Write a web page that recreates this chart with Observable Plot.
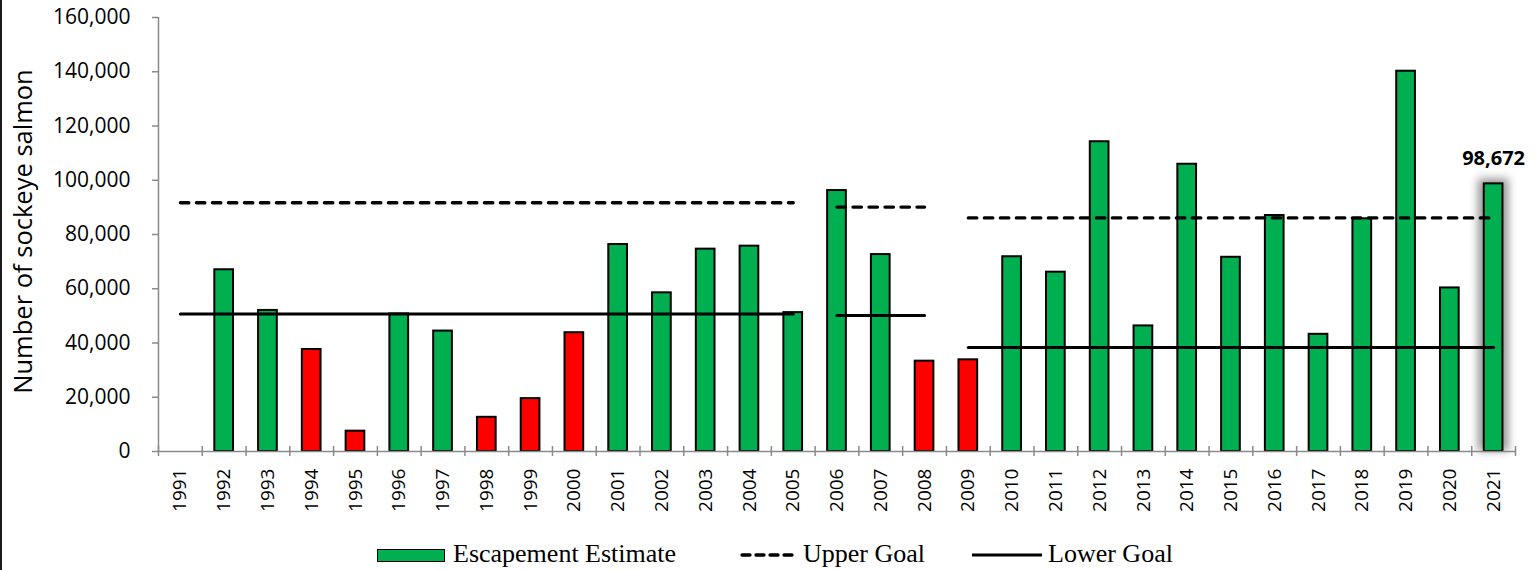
<!DOCTYPE html>
<html>
<head>
<meta charset="utf-8">
<script src="https://cdn.jsdelivr.net/npm/d3@7"></script>
<script src="https://cdn.jsdelivr.net/npm/@observablehq/plot@0.6"></script>
<style>
  body { margin: 0; background: #fff; }
  #wrap { position: relative; width: 1538px; height: 570px; overflow: hidden; }
  #edge { position: absolute; left: 0; top: 0; width: 2px; height: 570px; background: #1a1a1a; }
  #legend { position: absolute; left: 0; top: 520px; width: 1538px; height: 50px; font-family: "Liberation Serif", "Times New Roman", serif; font-size: 26px; color: #000; }
  .item { position: absolute; }
  .lbl { position: absolute; top: 19px; line-height: 30px; white-space: nowrap; }
  svg { display: block; }
</style>
</head>
<body>
<div id="wrap"><div id="chart"></div><div id="legend"></div><div id="edge"></div></div>
<script>
// ---- data ----
const years = ["1991","1992","1993","1994","1995","1996","1997","1998","1999","2000",
               "2001","2002","2003","2004","2005","2006","2007","2008","2009","2010",
               "2011","2012","2013","2014","2015","2016","2017","2018","2019","2020","2021"];
const escapement = [null, 67000, 52000, 37600, 7500, 50700, 44400, 12600, 19500, 43800,
                    76300, 58500, 74600, 75700, 51200, 96200, 72600, 33300, 33800, 71800,
                    66100, 114200, 46300, 105900, 71600, 87000, 43200, 85800, 140200, 60300, 98672];
const belowGoalYears = ["1994","1995","1998","1999","2000","2008","2009"];
const goalStart = ["1991","2006","2009"];
const goalEnd   = ["2005","2008","2021"];
const upperGoal = [91700, 90100, 86100];
const lowerGoal = [50700, 50100, 38300];
const yTicks = [0, 20000, 40000, 60000, 80000, 100000, 120000, 140000, 160000];
const highlightYear = "2021";
const yTitle = "Number of sockeye salmon";
const legendLabels = ["Escapement Estimate", "Upper Goal", "Lower Goal"];

// ---- tables built from the arrays ----
const bars = years.map((year, i) => ({year, value: escapement[i], status: belowGoalYears.includes(year) ? "below" : "met"}));
const goals = goalStart.flatMap((s, i) => [
  {seg: i, year: s, upper: upperGoal[i], lower: lowerGoal[i]},
  {seg: i, year: goalEnd[i], upper: upperGoal[i], lower: lowerGoal[i]}
]);
const highlight = bars.filter(d => d.year === highlightYear);

const W = 1538, H = 520, ML = 158, MR = 23, MT = 17, MB = 69;
const step = (W - ML - MR) / years.length;
const barW = 18.7;
const inset = (step - barW) / 2;
const axisGray = "#8a8a8a";

const chart = Plot.plot({
  width: W, height: H,
  marginLeft: ML, marginRight: MR, marginTop: MT, marginBottom: MB,
  style: {fontFamily: "'Open Sans', sans-serif", background: "#fff", color: "#000", overflow: "visible"},
  x: {type: "band", domain: years, padding: 0, round: false, label: null},
  y: {domain: [0, 160000], label: null},
  color: {domain: ["met", "below"], range: ["#00B050", "#FF0000"]},
  marks: [
    Plot.barY(highlight, {x: "year", y: "value", fill: "#000", fillOpacity: 0.4, insetLeft: inset - 6, insetRight: inset - 6, insetTop: -5}),
    Plot.barY(bars, {x: "year", y: "value", fill: "status", stroke: "#000", strokeWidth: 2, insetLeft: inset, insetRight: inset}),
    Plot.ruleY([0], {stroke: axisGray, strokeWidth: 1.5}),
    Plot.ruleX([years[0]], {dx: -step / 2, stroke: axisGray, strokeWidth: 1.5}),
    Plot.axisX({ticks: years, tickSize: 10, dy: -5, dx: -step / 2, tickFormat: () => "", stroke: axisGray, strokeWidth: 1.5, label: null}),
    Plot.axisX({ticks: [years[years.length - 1]], tickSize: 10, dy: -5, dx: step / 2, tickFormat: () => "", stroke: axisGray, strokeWidth: 1.5, label: null}),
    Plot.axisX({ticks: years, tickSize: 0, tickPadding: 17, tickRotate: -90, fontSize: 19, label: null}),
    Plot.axisY({ticks: yTicks, tickSize: 6, tickPadding: 22, tickFormat: d3.format(","), fontSize: 21, stroke: axisGray, strokeWidth: 1.5, label: null}),
    Plot.line(goals, {x: "year", y: "upper", z: "seg", stroke: "#000", strokeWidth: 3.3, strokeDasharray: "8.5,7.5", strokeLinecap: "round"}),
    Plot.line(goals, {x: "year", y: "lower", z: "seg", stroke: "#000", strokeWidth: 3}),
    Plot.text(highlight, {x: "year", y: "value", text: d => d3.format(",")(d.value), dy: -25, fontWeight: "bold", fontSize: 20}),
    Plot.text([yTitle], {frameAnchor: "left", textAnchor: "middle", dx: -135, dy: -3, rotate: -90, fontSize: 25.5})
  ]
});
const glow = chart.querySelectorAll('g[aria-label="bar"]')[0];
if (glow) glow.style.filter = "blur(4px)";
document.getElementById("chart").appendChild(chart);

// ---- legend ----
const lg = document.getElementById("legend");
lg.innerHTML = `
  <div class="item" style="left:377px;top:29px;width:66px;height:11px;background:#00B050;border:1.5px solid #000;"></div>
  <div class="lbl" style="left:453px;">${legendLabels[0]}</div>
  <svg class="item" style="left:740px;top:30px" width="56" height="10"><line x1="2" y1="5" x2="54" y2="5" stroke="#000" stroke-width="3.3" stroke-dasharray="8,6" stroke-linecap="round"/></svg>
  <div class="lbl" style="left:803px;">${legendLabels[1]}</div>
  <svg class="item" style="left:972px;top:30px" width="70" height="10"><line x1="0" y1="5" x2="70" y2="5" stroke="#000" stroke-width="3"/></svg>
  <div class="lbl" style="left:1048px;">${legendLabels[2]}</div>
`;
</script>
</body>
</html>
